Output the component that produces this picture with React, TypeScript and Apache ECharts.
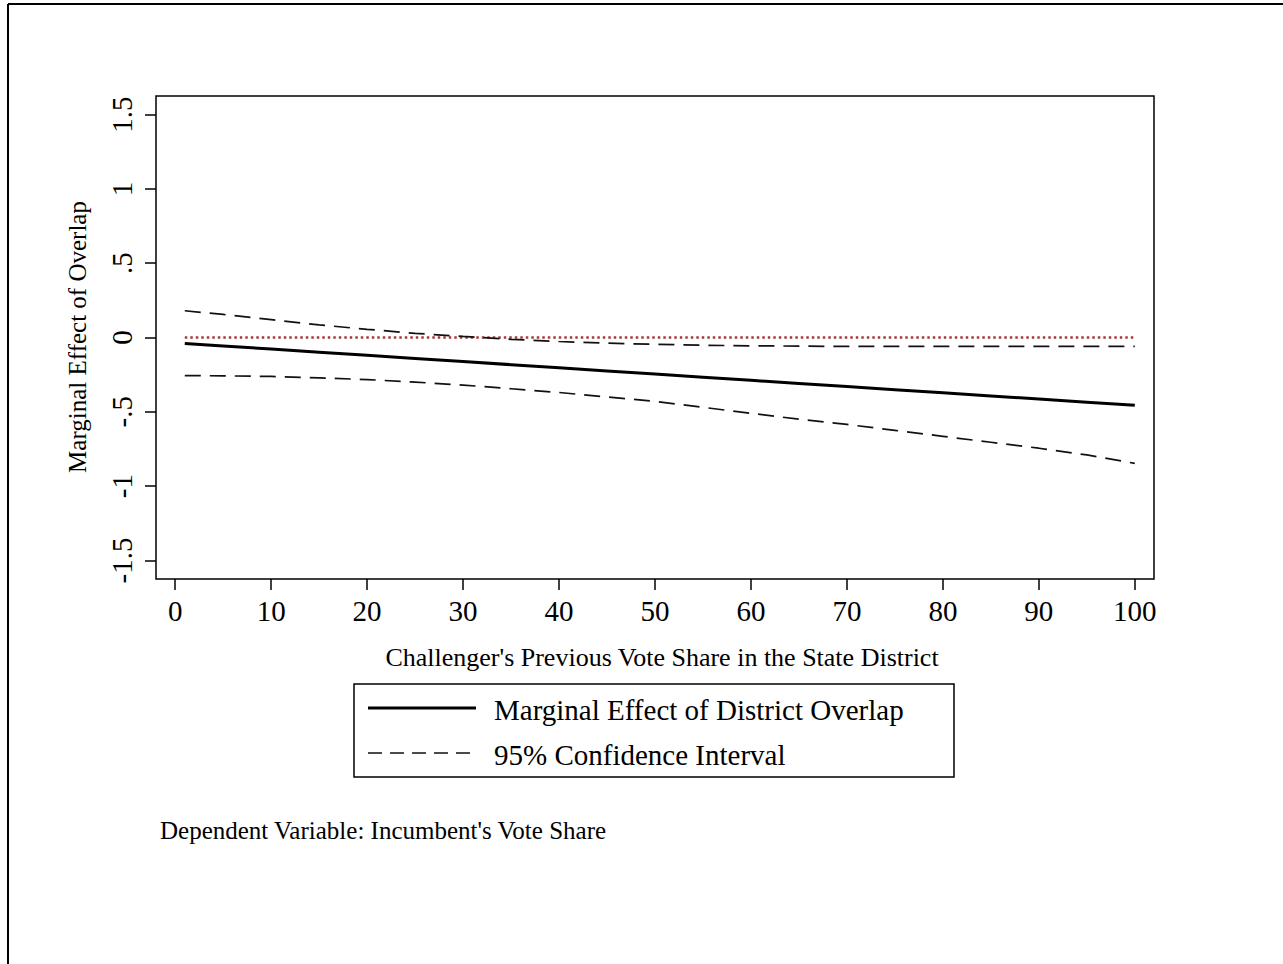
import React, { useEffect, useRef } from "react";
import * as echarts from "echarts";

const FONT = "'Times New Roman', 'Liberation Serif', serif";

const xValues = [1, 5, 10, 15, 20, 25, 30, 35, 40, 45, 50, 55, 60, 65, 70, 75, 80, 85, 90, 95, 100];
const marginalEffect = [-0.04, -0.057, -0.078, -0.099, -0.12, -0.141, -0.162, -0.183, -0.204, -0.225, -0.246, -0.267, -0.288, -0.309, -0.33, -0.351, -0.372, -0.393, -0.414, -0.435, -0.456];
const upperCI = [0.18, 0.155, 0.12, 0.085, 0.055, 0.028, 0.007, -0.012, -0.027, -0.038, -0.046, -0.052, -0.056, -0.058, -0.06, -0.06, -0.06, -0.06, -0.06, -0.06, -0.06];
const lowerCI = [-0.256, -0.258, -0.262, -0.272, -0.283, -0.3, -0.32, -0.345, -0.37, -0.4, -0.43, -0.47, -0.51, -0.55, -0.585, -0.625, -0.665, -0.705, -0.745, -0.79, -0.847];
const zeroLine = [[1, 0], [100, 0]];

const xTicks = [0, 10, 20, 30, 40, 50, 60, 70, 80, 90, 100];
const yTicks = [-1.5, -1, -0.5, 0, 0.5, 1, 1.5];
const yTickLabels: Record<string, string> = {
  "-1.5": "-1.5",
  "-1": "-1",
  "-0.5": "-.5",
  "0": "0",
  "0.5": ".5",
  "1": "1",
  "1.5": "1.5",
};

const xTitle = "Challenger's Previous Vote Share in the State District";
const yTitle = "Marginal Effect of Overlap";
const legendMain = "Marginal Effect of District Overlap";
const legendCI = "95% Confidence Interval";
const footnote = "Dependent Variable: Incumbent's Vote Share";

const pair = (ys: number[]) => xValues.map((x, i) => [x, ys[i]]);

export default function App() {
  const ref = useRef<HTMLDivElement>(null);
  useEffect(() => {
    if (!ref.current) return;
    const chart = echarts.init(ref.current, null, { renderer: "svg" });
    const GL = 156, GT = 96, GW = 998, GH = 483;
    chart.setOption({
      animation: false,
      backgroundColor: "#fff",
      grid: {
        left: GL, top: GT, width: GW, height: GH,
        show: true, borderColor: "#000", borderWidth: 1.5, backgroundColor: "transparent",
      },
      xAxis: {
        type: "value", min: -2, max: 102,
        axisLine: { show: false, onZero: false },
        splitLine: { show: false },
        axisTick: { show: true, inside: false, length: 11, lineStyle: { color: "#000", width: 1.5 }, customValues: xTicks },
        axisLabel: { fontFamily: FONT, fontSize: 29, color: "#000", margin: 17, customValues: xTicks },
      },
      yAxis: {
        type: "value", min: -1.625, max: 1.625,
        axisLine: { show: false, onZero: false },
        splitLine: { show: false },
        axisTick: { show: true, inside: false, length: 11, lineStyle: { color: "#000", width: 1.5 }, customValues: yTicks },
        axisLabel: {
          fontFamily: FONT, fontSize: 29, color: "#000", margin: 20, rotate: 90,
          customValues: yTicks,
          formatter: (v: number) => yTickLabels[String(v)] ?? String(v),
        },
      },
      series: [
        {
          type: "line", name: "zero", data: zeroLine, symbol: "none", z: 1,
          lineStyle: { color: "#a33a3a", width: 2.5, type: [2.5, 3], cap: "butt" },
        },
        {
          type: "line", name: legendCI, data: pair(upperCI), symbol: "none",
          lineStyle: { color: "#111", width: 1.7, type: [16, 9] },
        },
        {
          type: "line", name: legendCI + " lower", data: pair(lowerCI), symbol: "none",
          lineStyle: { color: "#111", width: 1.7, type: [16, 9] },
        },
        {
          type: "line", name: legendMain, data: pair(marginalEffect), symbol: "none",
          lineStyle: { color: "#000", width: 3 },
        },
      ],
      graphic: [
        { type: "line", shape: { x1: 8, y1: 4, x2: 1283, y2: 4 }, style: { stroke: "#000", lineWidth: 2 } },
        { type: "line", shape: { x1: 8, y1: 4, x2: 8, y2: 964 }, style: { stroke: "#000", lineWidth: 2 } },
        {
          type: "text", x: 662, y: 657,
          style: { text: xTitle, fontFamily: FONT, fontSize: 26, fill: "#000", align: "center", verticalAlign: "middle" },
        },
        {
          type: "text", x: 77, y: 337, rotation: Math.PI / 2,
          style: { text: yTitle, fontFamily: FONT, fontSize: 25, fill: "#000", align: "center", verticalAlign: "middle" },
        },
        {
          type: "rect", shape: { x: 354, y: 684, width: 600, height: 93 },
          style: { fill: "#fff", stroke: "#000", lineWidth: 1.5 },
        },
        { type: "line", shape: { x1: 368, y1: 708, x2: 476, y2: 708 }, style: { stroke: "#000", lineWidth: 3 } },
        { type: "line", shape: { x1: 368, y1: 753, x2: 476, y2: 753 }, style: { stroke: "#111", lineWidth: 1.7, lineDash: [14, 8] } },
        {
          type: "text", x: 494, y: 710,
          style: { text: legendMain, fontFamily: FONT, fontSize: 29, fill: "#000", align: "left", verticalAlign: "middle" },
        },
        {
          type: "text", x: 494, y: 755,
          style: { text: legendCI, fontFamily: FONT, fontSize: 29, fill: "#000", align: "left", verticalAlign: "middle" },
        },
        {
          type: "text", x: 160, y: 830,
          style: { text: footnote, fontFamily: FONT, fontSize: 25, fill: "#000", align: "left", verticalAlign: "middle" },
        },
      ],
    });
    return () => chart.dispose();
  }, []);
  return (
    <div
      ref={ref}
      style={{ position: "fixed", left: 0, top: 0, width: 1283, height: 964, background: "#fff" }}
    />
  );
}
